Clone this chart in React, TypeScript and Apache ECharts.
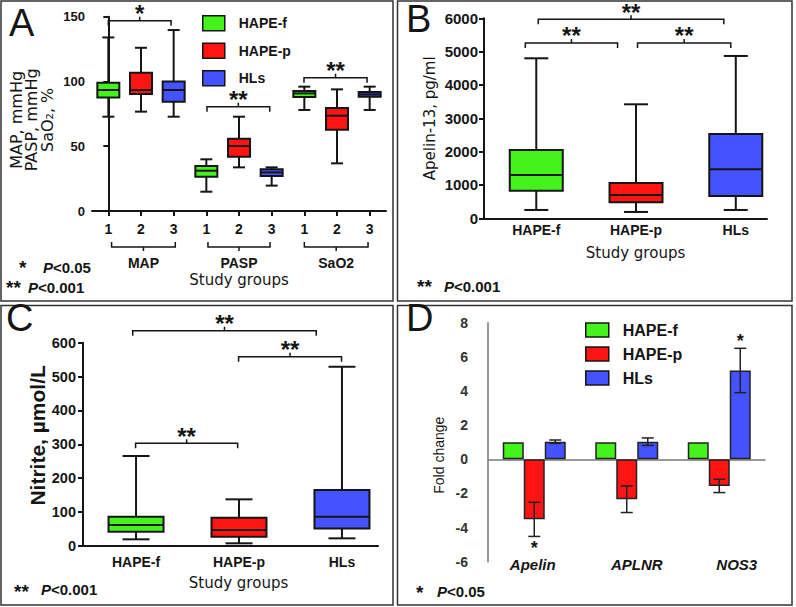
import React, { useEffect, useRef } from "react";
import * as echarts from "echarts";

const GREEN = "#44f21c";
const RED = "#ff1414";
const BLUE = "#4452ff";
const INK = "#151515";
const SANS = '"Liberation Sans", Arial, sans-serif';
const DEJAVU = '"DejaVu Sans", Verdana, sans-serif';

// ---------- Panel A ----------
const groupsA = ["MAP", "PASP", "SaO2"];
const ticksA = ["1", "2", "3", "1", "2", "3", "1", "2", "3"];
const posA = [0, 1, 2, 3, 4, 5, 6, 7, 8];
// [min, Q1, median, Q3, max]
const aHapeF = [
  [72.8, 87.7, 93.4, 99.0, 134.0],
  [14.9, 26.5, 31.1, 34.7, 39.9],
  [78.0, 88.0, 90.8, 92.6, 96.0],
];
const aHapeP = [
  [76.7, 90.3, 93.4, 106.8, 126.0],
  [33.7, 41.9, 50.2, 55.8, 72.8],
  [36.8, 62.8, 73.6, 79.5, 93.9],
];
const aHLs = [
  [72.8, 84.4, 93.4, 100.0, 139.7],
  [19.6, 27.0, 29.8, 32.2, 33.7],
  [78.0, 88.2, 90.0, 91.8, 96.0],
];
const sigA = [
  [0, 1.92, 146.9],
  [3.02, 4.94, 80.5],
  [5.99, 7.92, 102.9],
];
const sigALabels = ["*", "**", "**"];
const groupSpanA = [
  [0.1, 2.05],
  [3.05, 4.95],
  [6.0, 7.95],
];

// ---------- Panels B & C ----------
const groupsBC = ["HAPE-f", "HAPE-p", "HLs"];
const posBC = [1, 2, 3];
const bHapeF = [250, 830, 1300, 2050, 4800];
const bHapeP = [190, 480, 700, 1060, 3420];
const bHLs = [250, 670, 1470, 2530, 4870];
const sigB = [
  [1.02, 2.88, 5970],
  [0.89, 1.815, 5259],
  [2.015, 2.95, 5259],
];
const sigBLabels = ["**", "**", "**"];

const cHapeF = [19.7, 42.3, 62, 86.6, 265.6];
const cHapeP = [7.9, 27.5, 47.2, 83.6, 137.7];
const cHLs = [22.6, 52, 86.6, 165, 529];
const sigC = [
  [0.968, 2.75, 635.5],
  [1.996, 2.996, 558.7],
  [0.996, 1.987, 303.1],
];
const sigCLabels = ["**", "**", "**"];

// ---------- Panel D ----------
const genesD = ["Apelin", "APLNR", "NOS3"];
const dHapeF = [1, 1, 1];
const dHapeP = [-3.52, -2.34, -1.56];
const dHLs = [1.03, 1.03, 5.2];
const dErrP = [1.0, 0.78, 0.39];
const dErrH = [0.1, 0.22, 1.3];
const dStarP = [1, 0, 0];
const dStarH = [0, 0, 1];

const seriesNames = ["HAPE-f", "HAPE-p", "HLs"];
const seriesColors = [GREEN, RED, BLUE];

function boxRender(boxW: number, capW: number, color: string) {
  return (params: any, api: any) => {
    const x = api.value(0);
    const pMin = api.coord([x, api.value(1)]);
    const pQ1 = api.coord([x, api.value(2)]);
    const pMed = api.coord([x, api.value(3)]);
    const pQ3 = api.coord([x, api.value(4)]);
    const pMax = api.coord([x, api.value(5)]);
    const cx = pMin[0];
    const st = { stroke: INK, lineWidth: 2 };
    return {
      type: "group",
      children: [
        { type: "line", shape: { x1: cx, y1: pMax[1], x2: cx, y2: pMin[1] }, style: st },
        { type: "line", shape: { x1: cx - capW / 2, y1: pMax[1], x2: cx + capW / 2, y2: pMax[1] }, style: st },
        { type: "line", shape: { x1: cx - capW / 2, y1: pMin[1], x2: cx + capW / 2, y2: pMin[1] }, style: st },
        {
          type: "rect",
          shape: { x: cx - boxW / 2, y: pQ3[1], width: boxW, height: pQ1[1] - pQ3[1] },
          style: { fill: color, stroke: INK, lineWidth: 2 },
        },
        { type: "line", shape: { x1: cx - boxW / 2, y1: pMed[1], x2: cx + boxW / 2, y2: pMed[1] }, style: st },
      ],
    };
  };
}

function sigRender(labels: string[]) {
  const fs = 24;
  return (params: any, api: any) => {
    const p1 = api.coord([api.value(0), api.value(2)]);
    const p2 = api.coord([api.value(1), api.value(2)]);
    const py = p1[1];
    const xc = (p1[0] + p2[0]) / 2;
    const st = { stroke: INK, lineWidth: 1.5, fill: "none" };
    return {
      type: "group",
      children: [
        { type: "polyline", shape: { points: [[p1[0], py + 5], [p1[0], py], [p2[0], py], [p2[0], py + 5]] }, style: st },
        { type: "line", shape: { x1: xc, y1: py, x2: xc, y2: py - 4 }, style: st },
        {
          type: "text",
          style: {
            text: labels[params.dataIndex],
            x: xc,
            y: py - 11 + 0.16 * fs,
            align: "center",
            verticalAlign: "middle",
            font: `bold ${fs}px ${SANS}`,
            lineHeight: 16,
            fill: INK,
          },
        },
      ],
    };
  };
}

function groupBracketRender(params: any, api: any) {
  const p1 = api.coord([api.value(0), 0]);
  const p2 = api.coord([api.value(1), 0]);
  const base = p1[1];
  const yh = base + 36;
  const xc = (p1[0] + p2[0]) / 2;
  const st = { stroke: INK, lineWidth: 1.5, fill: "none" };
  return {
    type: "group",
    children: [
      { type: "polyline", shape: { points: [[p1[0], yh - 5], [p1[0], yh], [p2[0], yh], [p2[0], yh - 5]] }, style: st },
      { type: "line", shape: { x1: xc, y1: yh, x2: xc, y2: yh + 4 }, style: st },
      {
        type: "text",
        style: {
          text: groupsA[params.dataIndex],
          x: xc,
          y: base + 51.5,
          align: "center",
          verticalAlign: "middle",
          font: `bold 14px ${SANS}`,
          fill: INK,
        },
      },
    ],
  };
}

function errRender(params: any, api: any) {
  const cat = api.value(0);
  const v = api.value(1);
  const e = api.value(2);
  const off = api.value(3);
  const star = api.value(4);
  const p = api.coord([cat, v]);
  const cx = p[0] + off * 21;
  const top = api.coord([cat, v + e])[1];
  const bot = api.coord([cat, v - e])[1];
  const st = { stroke: "#222", lineWidth: 1.5 };
  const children: any[] = [
    { type: "line", shape: { x1: cx, y1: top, x2: cx, y2: bot }, style: st },
    { type: "line", shape: { x1: cx - 6, y1: top, x2: cx + 6, y2: top }, style: st },
    { type: "line", shape: { x1: cx - 6, y1: bot, x2: cx + 6, y2: bot }, style: st },
  ];
  if (star) {
    const fs = 18;
    const gy = v >= 0 ? top - 10 : bot + 8.5;
    children.push({
      type: "text",
      style: {
        text: "*",
        x: cx,
        y: gy + 0.16 * fs,
        align: "center",
        verticalAlign: "middle",
        font: `bold ${fs}px ${SANS}`,
        lineHeight: 9,
        fill: INK,
      },
    });
  }
  return { type: "group", children };
}

const boxSeries = (
  name: string,
  color: string,
  data: number[][],
  axis: number,
  boxW: number,
  capW: number
) => ({
  type: "custom",
  name,
  xAxisIndex: axis,
  yAxisIndex: axis,
  itemStyle: { color },
  encode: { x: 0, y: [1, 2, 3, 4, 5] },
  renderItem: boxRender(boxW, capW, color),
  data,
  clip: false,
  silent: true,
  z: 2,
});

const sigSeries = (axis: number, data: number[][], labels: string[]) => ({
  type: "custom",
  name: "sig" + axis,
  xAxisIndex: axis,
  yAxisIndex: axis,
  encode: { x: [0, 1], y: 2 },
  renderItem: sigRender(labels),
  data,
  clip: false,
  silent: true,
  z: 3,
});

const legendCfg = (left: number, top: number, w: number, h: number, gap: number, fs: number) => ({
  orient: "vertical",
  left,
  top,
  padding: 0,
  itemWidth: w,
  itemHeight: h,
  itemGap: gap,
  icon: "rect",
  selectedMode: false,
  formatter: "{t|{name}}",
  textStyle: {
    rich: {
      t: { fontFamily: SANS, fontSize: fs, fontWeight: "bold", color: INK, padding: [0, 0, 0, 9] },
    },
  },
  data: seriesNames.map((n, i) => ({
    name: n,
    itemStyle: { color: seriesColors[i], borderColor: INK, borderWidth: 1.5 },
  })),
});

const valueY = (grid: number, min: number, max: number, interval: number, fs: number, margin: number, extra: any = {}) => ({
  type: "value",
  gridIndex: grid,
  min,
  max,
  interval,
  axisLine: { show: true, lineStyle: { color: INK, width: 2 } },
  axisTick: { show: true, length: 5, lineStyle: { color: INK, width: 2 } },
  axisLabel: { fontFamily: SANS, fontWeight: "bold", fontSize: fs, color: INK, margin, formatter: (v: number) => String(v) },
  splitLine: { show: false },
  nameLocation: "middle",
  nameRotate: 90,
  nameMoveOverlap: false,
  ...extra,
});

const bcX = (grid: number, min: number, max: number, margin: number, nameGap: number, namePad: number) => ({
  type: "value",
  gridIndex: grid,
  min,
  max,
  axisLine: { show: true, onZero: false, lineStyle: { color: INK, width: 2 } },
  axisTick: { show: false },
  axisLabel: {
    customValues: posBC,
    formatter: (v: number) => groupsBC[Math.round(v) - 1],
    fontFamily: SANS,
    fontWeight: "bold",
    fontSize: 14,
    color: INK,
    margin,
  },
  splitLine: { show: false },
  name: "Study groups",
  nameLocation: "middle",
  nameGap,
  nameMoveOverlap: false,
  nameTextStyle: { fontFamily: DEJAVU, fontSize: 15, color: INK, padding: [0, 0, 0, namePad] },
});

const STAR_FS = 19;
const footnote = (starX: number, starY: number, stars: string, textX: number, textY: number, pText: string, fs = 15) => [
  {
    type: "text",
    style: {
      text: stars,
      x: starX,
      y: starY + 0.16 * STAR_FS,
      align: "left",
      verticalAlign: "middle",
      font: `bold ${STAR_FS}px ${SANS}`,
      lineHeight: 14,
      fill: INK,
    },
  },
  {
    type: "text",
    style: {
      text: "{i|P}{b|" + pText + "}",
      x: textX,
      y: textY,
      align: "left",
      verticalAlign: "middle",
      font: `bold ${fs}px ${SANS}`,
      fill: INK,
      rich: {
        i: { fontStyle: "italic", fontWeight: "bold", fontSize: fs, fontFamily: SANS, fill: INK },
        b: { fontWeight: "bold", fontSize: fs, fontFamily: SANS, fill: INK },
      },
    },
  },
];

const panelLetter = (t: string, x: number, y: number) => ({
  type: "text",
  style: { text: t, x, y, align: "left", verticalAlign: "middle", font: `38px ${SANS}`, lineHeight: 28, fill: INK },
});

const border = (x: number, y: number, w: number, h: number) => ({
  type: "rect",
  shape: { x, y, width: w, height: h },
  style: { fill: "none", stroke: "#333", lineWidth: 1.5 },
});

const option: any = {
  animation: false,
  backgroundColor: "#fff",
  grid: [
    { left: 92, top: 16.7, width: 294, height: 194.3, containLabel: false, outerBoundsMode: "none" },
    { left: 484, top: 18.3, width: 283, height: 200, containLabel: false, outerBoundsMode: "none" },
    { left: 83, top: 342.7, width: 295, height: 203.3, containLabel: false, outerBoundsMode: "none" },
    { left: 488, top: 322.7, width: 277.5, height: 239, containLabel: false, outerBoundsMode: "none" },
  ],
  xAxis: [
    {
      type: "value",
      gridIndex: 0,
      min: -0.5,
      max: 8.5,
      axisLine: { show: true, onZero: false, lineStyle: { color: INK, width: 2 } },
      axisTick: { show: true, customValues: posA, length: 5, lineStyle: { color: INK, width: 2 } },
      axisLabel: {
        customValues: posA,
        formatter: (v: number) => ticksA[Math.round(v)],
        fontFamily: SANS,
        fontWeight: "bold",
        fontSize: 14,
        color: INK,
        margin: 11,
      },
      splitLine: { show: false },
      name: "Study groups",
      nameLocation: "middle",
      nameGap: 61,
      nameMoveOverlap: false,
      nameTextStyle: { fontFamily: DEJAVU, fontSize: 15, color: INK },
    },
    bcX(1, 0.476, 3.313, 4.5, 27, 20),
    bcX(2, 0.485, 3.35, 8.5, 29, 16),
    {
      type: "category",
      gridIndex: 3,
      data: genesD,
      axisLine: { show: false, onZero: false },
      axisTick: { show: false },
      axisLabel: {
        margin: -5,
        formatter: (v: string, i: number) => `{g${i}|${v}}`,
        rich: {
          g0: { fontFamily: SANS, fontSize: 15, fontWeight: "bold", fontStyle: "italic", color: INK, padding: [0, 3, 0, 0] },
          g1: { fontFamily: SANS, fontSize: 15, fontWeight: "bold", fontStyle: "italic", color: INK, padding: [0, 0, 0, 20] },
          g2: { fontFamily: SANS, fontSize: 15, fontWeight: "bold", fontStyle: "italic", color: INK, padding: [0, 0, 0, 35] },
        },
      },
      splitLine: { show: false },
    },
  ],
  yAxis: [
    valueY(0, 0, 150, 50, 13, 7, {
      name: "MAP, mmHg\nPASP, mmHg\nSaO\u2082, %",
      nameGap: 37,
      nameTextStyle: { fontFamily: DEJAVU, fontSize: 16, lineHeight: 15.5, color: INK, padding: [0, 12, 0, 0] },
    }),
    valueY(1, 0, 6000, 1000, 15, 6, {
      name: "Apelin-13, pg/ml",
      nameGap: 47,
      nameTextStyle: { fontFamily: DEJAVU, fontSize: 15, color: INK },
    }),
    valueY(2, 0, 600, 100, 14.5, 7, {
      name: "Nitrite, \u00b5mol/L",
      nameGap: 35,
      nameTextStyle: { fontFamily: SANS, fontSize: 21, fontWeight: "bold", color: INK, padding: [0, 0, 0, 18] },
    }),
    {
      type: "value",
      gridIndex: 3,
      min: -6,
      max: 8,
      interval: 2,
      axisLine: { show: true, lineStyle: { color: "#777", width: 1.5 } },
      axisTick: { show: false },
      axisLabel: { fontFamily: SANS, fontWeight: "bold", fontSize: 14, color: "#333", margin: 20 },
      splitLine: { show: false },
      name: "Fold change",
      nameLocation: "middle",
      nameRotate: 90,
      nameGap: 42,
      nameMoveOverlap: false,
      nameTextStyle: { fontFamily: SANS, fontSize: 14, color: INK, padding: [0, 26, 0, 0] },
    },
  ],
  legend: [legendCfg(202, 15, 22, 15, 11, 14), legendCfg(585, 322, 23, 14, 8, 16)],
  series: [
    // Panel A
    boxSeries("HAPE-f", GREEN, aHapeF.map((v, g) => [posA[g * 3], ...v]), 0, 22, 12),
    boxSeries("HAPE-p", RED, aHapeP.map((v, g) => [posA[g * 3 + 1], ...v]), 0, 22, 12),
    boxSeries("HLs", BLUE, aHLs.map((v, g) => [posA[g * 3 + 2], ...v]), 0, 22, 12),
    sigSeries(0, sigA, sigALabels),
    {
      type: "custom",
      name: "groupsA",
      xAxisIndex: 0,
      yAxisIndex: 0,
      encode: { x: [0, 1], y: 2 },
      renderItem: groupBracketRender,
      data: groupSpanA.map((s) => [s[0], s[1], 0]),
      clip: false,
      silent: true,
    },
    // Panel B
    boxSeries("HAPE-f", GREEN, [[posBC[0], ...bHapeF]], 1, 53, 24),
    boxSeries("HAPE-p", RED, [[posBC[1], ...bHapeP]], 1, 53, 24),
    boxSeries("HLs", BLUE, [[posBC[2], ...bHLs]], 1, 53, 24),
    sigSeries(1, sigB, sigBLabels),
    // Panel C
    boxSeries("HAPE-f", GREEN, [[posBC[0], ...cHapeF]], 2, 55, 27),
    boxSeries("HAPE-p", RED, [[posBC[1], ...cHapeP]], 2, 55, 27),
    boxSeries("HLs", BLUE, [[posBC[2], ...cHLs]], 2, 55, 27),
    sigSeries(2, sigC, sigCLabels),
    // Panel D
    {
      type: "bar",
      name: "HAPE-f",
      xAxisIndex: 3,
      yAxisIndex: 3,
      data: dHapeF,
      barWidth: 21,
      barGap: "0%",
      itemStyle: { color: GREEN, borderColor: "#222", borderWidth: 1.5 },
      silent: true,
      markLine: {
        silent: true,
        symbol: "none",
        label: { show: false },
        lineStyle: { color: "#777", width: 1.5, type: "solid" },
        data: [{ yAxis: 0 }],
        z: 1,
      },
    },
    {
      type: "bar",
      name: "HAPE-p",
      xAxisIndex: 3,
      yAxisIndex: 3,
      data: dHapeP,
      barWidth: 21,
      barGap: "0%",
      itemStyle: { color: RED, borderColor: "#222", borderWidth: 1.5 },
      silent: true,
    },
    {
      type: "bar",
      name: "HLs",
      xAxisIndex: 3,
      yAxisIndex: 3,
      data: dHLs,
      barWidth: 21,
      barGap: "0%",
      itemStyle: { color: BLUE, borderColor: "#222", borderWidth: 1.5 },
      silent: true,
    },
    {
      type: "custom",
      name: "errors",
      xAxisIndex: 3,
      yAxisIndex: 3,
      encode: { x: 0, y: 1 },
      renderItem: errRender,
      data: [
        ...dHapeP.map((v, i) => [i, v, dErrP[i], 0, dStarP[i]]),
        ...dHLs.map((v, i) => [i, v, dErrH[i], 1, dStarH[i]]),
      ],
      clip: false,
      silent: true,
      z: 5,
    },
  ],
  graphic: [
    border(1, 1, 392, 300),
    border(397.5, 1, 394.5, 300),
    border(1, 305.5, 392, 299.5),
    border(397.5, 305.5, 394.5, 299.5),
    panelLetter("A", 9, 23),
    panelLetter("B", 406, 19.2),
    panelLetter("C", 6, 318.3),
    panelLetter("D", 406, 318.3),
    ...footnote(19, 264.7, "*", 43, 267, "<0.05"),
    ...footnote(6, 284, "**", 28, 287, "<0.001"),
    ...footnote(417, 283.8, "**", 444, 286.7, "<0.001"),
    ...footnote(14, 588, "**", 41, 589.5, "<0.001"),
    ...footnote(416, 589, "*", 437, 591.5, "<0.05"),
  ],
};

export default function App() {
  const ref = useRef<HTMLDivElement>(null);
  useEffect(() => {
    const chart = echarts.init(ref.current as HTMLDivElement, null, { renderer: "svg" });
    chart.setOption(option);
    return () => chart.dispose();
  }, []);
  return (
    <div
      ref={ref}
      style={{ position: "fixed", left: 0, top: 0, width: 796, height: 607, background: "#fff" }}
    />
  );
}
